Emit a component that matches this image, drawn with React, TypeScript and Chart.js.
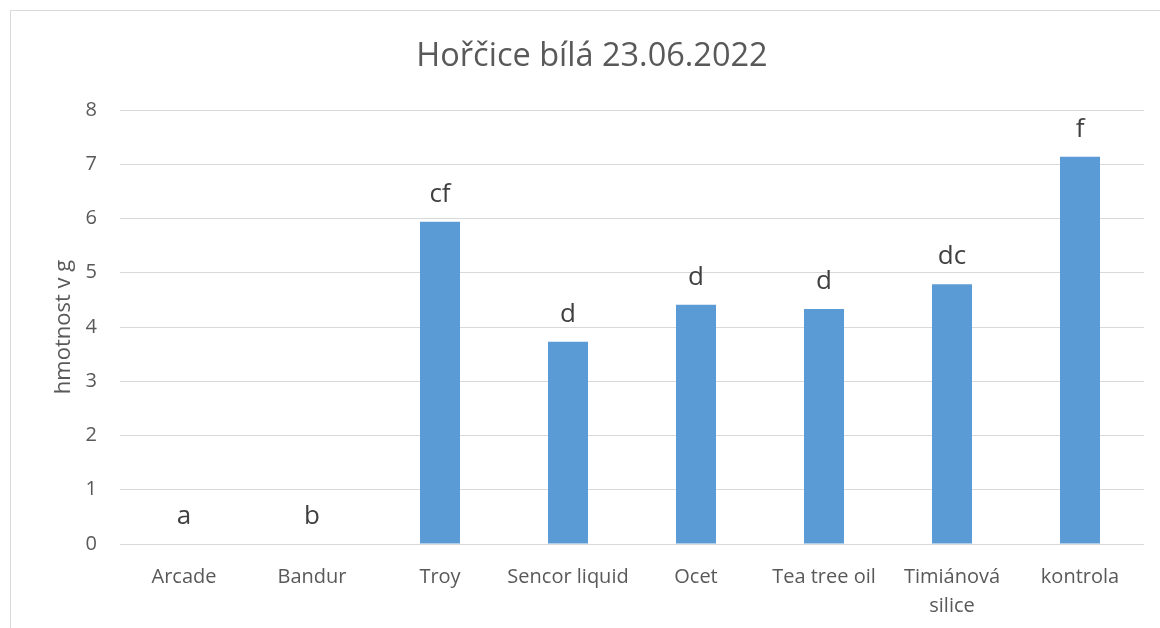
import React, { useEffect, useRef } from "react";
import { Chart, registerables } from "chart.js";

Chart.register(...registerables);

const chartTitle = "Hořčice bílá 23.06.2022";
const yAxisTitle = "hmotnost v g";
const categories: (string | string[])[] = [
  "Arcade",
  "Bandur",
  "Troy",
  "Sencor liquid",
  "Ocet",
  "Tea tree oil",
  ["Timiánová", "silice"],
  "kontrola",
];
const values = [0, 0, 5.94, 3.73, 4.41, 4.33, 4.79, 7.14];
const letterLabels = ["a", "b", "cf", "d", "d", "d", "dc", "f"];
const yMin = 0;
const yMax = 8;
const yStep = 1;

const FONT = "'Open Sans', 'DejaVu Sans', sans-serif";

const letterPlugin = {
  id: "letterLabels",
  afterDatasetsDraw(chart: any) {
    const ctx = chart.ctx;
    const meta = chart.getDatasetMeta(0);
    ctx.save();
    ctx.font = `26px ${FONT}`;
    ctx.fillStyle = "#404040";
    ctx.textAlign = "center";
    ctx.textBaseline = "alphabetic";
    meta.data.forEach((bar: any, i: number) => {
      ctx.fillText(letterLabels[i], bar.x, bar.y - 20);
    });
    ctx.restore();
  },
};

export default function App() {
  const canvasRef = useRef<HTMLCanvasElement | null>(null);

  useEffect(() => {
    if (!canvasRef.current) return;
    const chart = new Chart(canvasRef.current, {
      type: "bar",
      data: {
        labels: categories,
        datasets: [
          {
            data: values,
            backgroundColor: "#5b9bd5",
            borderWidth: 0,
            barPercentage: 0.3125,
            categoryPercentage: 1,
          },
        ],
      },
      options: {
        responsive: false,
        animation: false,
        devicePixelRatio: 1,
        layout: { padding: { left: 0, right: 0, top: 0, bottom: 0 } },
        plugins: {
          legend: { display: false },
          tooltip: { enabled: false },
          title: {
            display: true,
            text: chartTitle,
            color: "#595959",
            font: { family: FONT, size: 32.5, weight: "normal", lineHeight: 1.2 },
            padding: { top: 26, bottom: 34 },
          },
        },
        scales: {
          x: {
            grid: { display: false },
            border: { display: false },
            ticks: {
              color: "#595959",
              font: { family: FONT, size: 20, lineHeight: 1.45 },
              padding: 11,
              maxRotation: 0,
              autoSkip: false,
            },
            afterFit: (scale: any) => {
              scale.height = 107;
            },
          },
          y: {
            min: yMin,
            max: yMax,
            border: { display: false },
            grid: { color: "#d9d9d9", lineWidth: 1, drawTicks: false },
            ticks: {
              stepSize: yStep,
              color: "#595959",
              font: { family: FONT, size: 20 },
              padding: 23,
            },
            title: {
              display: true,
              text: yAxisTitle,
              color: "#595959",
              font: { family: FONT, size: 22, lineHeight: 1.2 },
              padding: { top: 40, bottom: 0 },
            },
            afterFit: (scale: any) => {
              scale.width = 109;
            },
          },
          yRight: {
            type: "linear",
            position: "right",
            display: true,
            min: yMin,
            max: yMax,
            grid: { display: false },
            border: { display: false },
            ticks: { display: false },
            afterFit: (scale: any) => {
              scale.width = 29;
            },
          },
        },
      },
      plugins: [letterPlugin],
    });
    return () => chart.destroy();
  }, []);

  return (
    <div
      style={{
        position: "fixed",
        left: 0,
        top: 0,
        width: "100vw",
        height: "100vh",
        overflow: "hidden",
        background: "#ffffff",
      }}
    >
      <div
        style={{
          position: "absolute",
          left: 10,
          top: 10,
          width: 1162,
          height: 640,
          border: "1px solid #d9d9d9",
          background: "#ffffff",
        }}
      >
        <canvas ref={canvasRef} width={1162} height={640} style={{ display: "block" }} />
      </div>
    </div>
  );
}
